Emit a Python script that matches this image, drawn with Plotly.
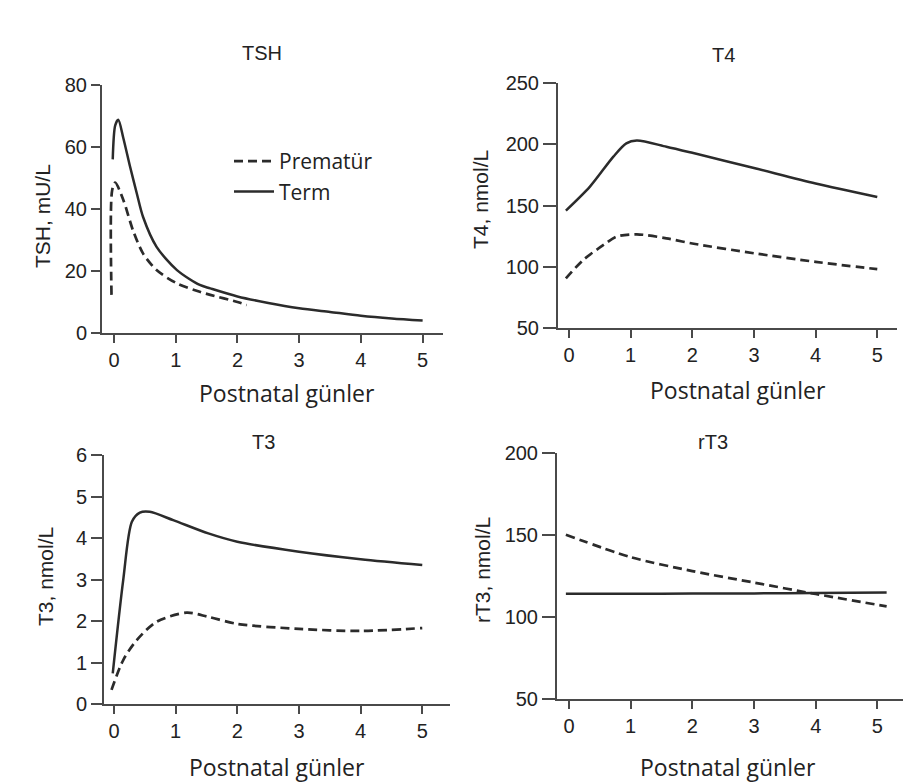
import plotly.graph_objects as go

W, H = 911, 784
OFF = 8  # page body margin in the browser

# ---------------- data ----------------
tsh_term_x = [-0.02, 0.02, 0.07, 0.15, 0.26, 0.37, 0.47, 0.69, 1.02, 1.39, 1.56, 2.0, 2.5, 3.0, 3.5, 4.0, 4.5, 5.0]
tsh_term_y = [56, 67, 68.8, 63, 53.7, 45, 37.5, 27.8, 20.3, 15.5, 14.4, 11.8, 9.7, 8.0, 6.8, 5.6, 4.7, 4.0]
tsh_pre_x = [-0.04, -0.03, 0.02, 0.15, 0.31, 0.47, 0.69, 1.02, 1.39, 1.56, 2.0, 2.15]
tsh_pre_y = [12.3, 46, 48.5, 43, 33, 25.7, 20.3, 16, 13.3, 12.3, 10, 9]

t4_term_x = [-0.05, 0.34, 0.72, 0.93, 1.1, 1.58, 2.0, 3.0, 4.0, 5.0]
t4_term_y = [145.8, 165.4, 189.9, 200.7, 203, 198, 193, 180.6, 168, 157]
t4_pre_x = [-0.05, 0.23, 0.56, 0.77, 1.1, 1.58, 2.0, 3.0, 4.0, 5.0]
t4_pre_y = [90.5, 105.5, 117.8, 124.6, 126.5, 123.2, 119, 111, 104, 98]

t3_term_x = [-0.02, 0.15, 0.29, 0.42, 0.58, 0.96, 1.53, 2.0, 3.0, 4.0, 5.0]
t3_term_y = [0.74, 2.99, 4.39, 4.61, 4.63, 4.43, 4.11, 3.91, 3.67, 3.49, 3.35]
t3_pre_x = [-0.04, 0.15, 0.37, 0.69, 1.18, 1.53, 2.0, 3.0, 4.0, 5.0]
t3_pre_y = [0.34, 1.06, 1.54, 1.98, 2.2, 2.1, 1.93, 1.81, 1.76, 1.83]

rt3_term_x = [-0.05, 1.0, 2.0, 3.0, 4.0, 5.15]
rt3_term_y = [114.2, 114.2, 114.3, 114.4, 114.6, 115.0]
rt3_pre_x = [-0.05, 1.0, 2.0, 3.0, 4.0, 5.15]
rt3_pre_y = [150.2, 136.5, 128, 121, 114, 106.5]

panel_titles = ["TSH", "T4", "T3", "rT3"]
y_titles = ["TSH, mU/L", "T4, nmol/L", "T3, nmol/L", "rT3, nmol/L"]
x_title = "Postnatal günler"
x_ticks = [0, 1, 2, 3, 4, 5]
y_ticks = [[0, 20, 40, 60, 80], [50, 100, 150, 200, 250], [0, 1, 2, 3, 4, 5, 6], [50, 100, 150, 200]]
series_names = ["Prematür", "Term"]

# ---------------- layout helpers ----------------
def px(x):
    return (x - OFF) / W

def py(y):
    return 1 - (y - OFF) / H

# pixel boxes: (left, right, top, bottom), x range, y range, y tick length
panels = [
    dict(box=(102, 443, 85, 333), xr=[-0.194, 5.33], yr=[0, 80], tl=9),
    dict(box=(558, 897, 83, 328), xr=[-0.178, 5.32], yr=[50, 250], tl=13),
    dict(box=(104, 450, 455, 704), xr=[-0.162, 5.45], yr=[0, 6], tl=11),
    dict(box=(557, 907, 453, 699), xr=[-0.194, 5.48], yr=[50, 200], tl=13),
]

data = [
    (tsh_pre_x, tsh_pre_y, tsh_term_x, tsh_term_y),
    (t4_pre_x, t4_pre_y, t4_term_x, t4_term_y),
    (t3_pre_x, t3_pre_y, t3_term_x, t3_term_y),
    (rt3_pre_x, rt3_pre_y, rt3_term_x, rt3_term_y),
]

LINE = "#2b2b2b"
AX = "#4a4a4a"
TICKFONT = dict(family="Liberation Sans, Arial", size=20, color="#222")

fig = go.Figure()
layout = dict(
    template="none",
    width=W, height=H, autosize=False,
    margin=dict(l=0, r=0, t=0, b=0, pad=0),
    paper_bgcolor="white", plot_bgcolor="white",
    showlegend=True,
    legend=dict(x=px(229), y=py(141), xanchor="left", yanchor="top",
                bgcolor="rgba(0,0,0,0)", borderwidth=0,
                font=dict(family="Open Sans", size=21, color="#222"),
                itemwidth=40, tracegroupgap=0),
)

for i, p in enumerate(panels):
    n = "" if i == 0 else str(i + 1)
    l, r, t, b = p["box"]
    px_, py_, tx, ty = data[i]
    fig.add_trace(go.Scatter(x=px_, y=py_, mode="lines", line=dict(color=LINE, width=2.7, dash="9px,5px", shape="spline", smoothing=0.8),
                             name=series_names[0], showlegend=(i == 0), legendgroup="a",
                             xaxis="x" + n, yaxis="y" + n))
    fig.add_trace(go.Scatter(x=tx, y=ty, mode="lines", line=dict(color=LINE, width=2.5, shape="spline", smoothing=0.8),
                             name=series_names[1], showlegend=(i == 0), legendgroup="b",
                             xaxis="x" + n, yaxis="y" + n))
    layout["xaxis" + n] = dict(domain=[px(l), px(r)], range=p["xr"], anchor="y" + n, automargin=False,
                               showgrid=False, zeroline=False, showline=True, linecolor=AX, linewidth=2,
                               ticks="outside", ticklen=8, tickwidth=2, tickcolor=AX,
                               tickvals=x_ticks, tickfont=TICKFONT, fixedrange=True)
    layout["yaxis" + n] = dict(domain=[py(b), py(t)], range=p["yr"], anchor="x" + n, automargin=False,
                               showgrid=False, zeroline=False, showline=True, linecolor=AX, linewidth=2,
                               ticks="outside", ticklen=p["tl"], tickwidth=2, tickcolor=AX,
                               tickvals=y_ticks[i], tickfont=TICKFONT, fixedrange=True)

fig.update_layout(**layout)

title_pos = [(262, 53), (723, 55), (263, 442), (713, 442)]
ytitle_pos = [(42, 216), (480, 200), (45, 577), (482, 570)]
xtitle_pos = [(287, 393), (738, 390), (277, 767), (728, 767)]

for i in range(4):
    x, y = title_pos[i]
    fig.add_annotation(x=px(x), y=py(y), xref="paper", yref="paper", text=panel_titles[i],
                       xanchor="center", yanchor="middle",
                       showarrow=False, font=dict(family="Liberation Sans, Arial", size=20, color="#222"))
    x, y = ytitle_pos[i]
    fig.add_annotation(x=px(x), y=py(y), xref="paper", yref="paper", text=y_titles[i], textangle=-90,
                       xanchor="center", yanchor="middle",
                       showarrow=False, font=dict(family="Liberation Sans, Arial", size=21, color="#222"))
    x, y = xtitle_pos[i]
    fig.add_annotation(x=px(x), y=py(y), xref="paper", yref="paper", text=x_title,
                       xanchor="center", yanchor="middle",
                       showarrow=False, font=dict(family="Open Sans", size=23, color="#222"))

fig.write_html("out.html", config={"displayModeBar": False})
